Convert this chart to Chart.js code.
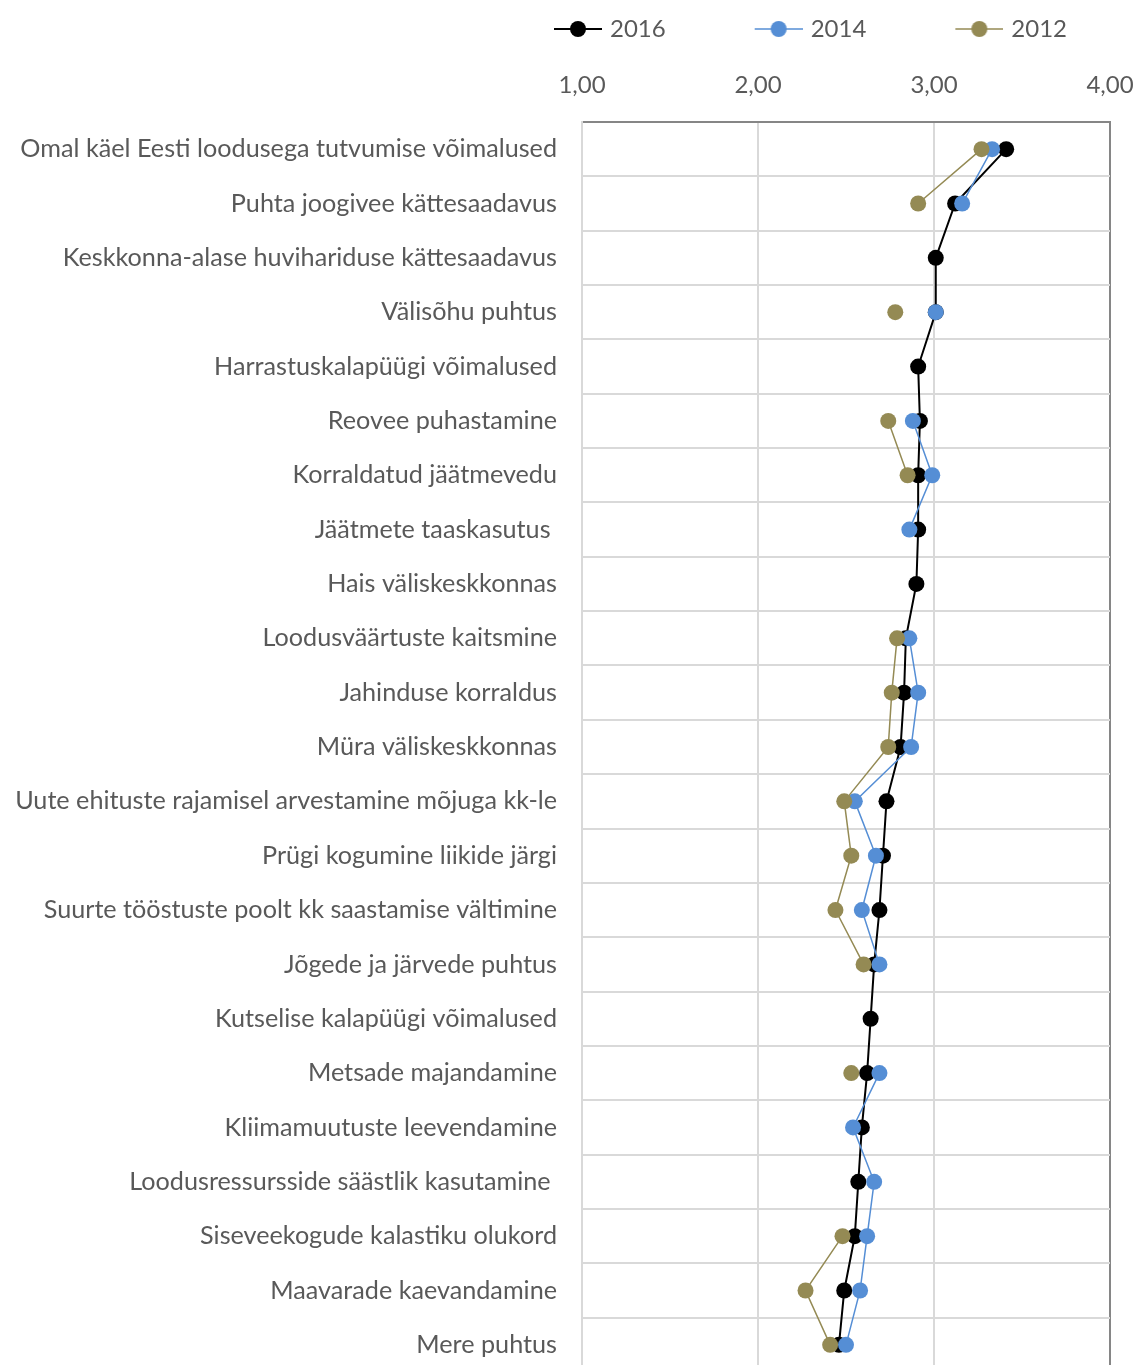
<!DOCTYPE html>
<html lang="et">
<head>
<meta charset="utf-8">
<title>Keskkonnaga rahulolu 2012–2016</title>
<script src="https://cdn.jsdelivr.net/npm/chart.js@4/dist/chart.umd.min.js"></script>
<style>
    html, body { margin: 0; padding: 0; background: #fff; overflow: hidden; }
    #wrap { width: 1139px; height: 1380px; }
</style>
</head>
<body>
<div id="wrap"><canvas id="chart" width="1139" height="1380"></canvas></div>
<script>
// Categories (top to bottom)
const categories = [
    'Omal käel Eesti loodusega tutvumise võimalused',
    'Puhta joogivee kättesaadavus',
    'Keskkonna-alase huvihariduse kättesaadavus',
    'Välisõhu puhtus',
    'Harrastuskalapüügi võimalused',
    'Reovee puhastamine',
    'Korraldatud jäätmevedu',
    'Jäätmete taaskasutus ',
    'Hais väliskeskkonnas',
    'Loodusväärtuste kaitsmine',
    'Jahinduse korraldus',
    'Müra väliskeskkonnas',
    'Uute ehituste rajamisel arvestamine mõjuga kk-le',
    'Prügi kogumine liikide järgi',
    'Suurte tööstuste poolt kk saastamise vältimine',
    'Jõgede ja järvede puhtus',
    'Kutselise kalapüügi võimalused',
    'Metsade majandamine',
    'Kliimamuutuste leevendamine',
    'Loodusressursside säästlik kasutamine ',
    'Siseveekogude kalastiku olukord',
    'Maavarade kaevandamine',
    'Mere puhtus'
];

// Average scores per year (null = not asked that year)
const values2016 = [3.41, 3.12, 3.01, 3.01, 2.91, 2.92, 2.91, 2.91, 2.90, 2.84, 2.83, 2.81,
    2.73, 2.71, 2.69, 2.66, 2.64, 2.62, 2.59, 2.57, 2.55, 2.49, 2.46];
const values2014 = [3.33, 3.16, null, 3.01, null, 2.88, 2.99, 2.86, null, 2.86, 2.91, 2.87,
    2.55, 2.67, 2.59, 2.69, null, 2.69, 2.54, 2.66, 2.62, 2.58, 2.50];
const values2012 = [3.27, 2.91, null, 2.78, null, 2.74, 2.85, null, null, 2.79, 2.76, 2.74,
    2.49, 2.53, 2.44, 2.60, null, 2.53, null, null, 2.48, 2.27, 2.41];

const seriesNames = ['2016', '2014', '2012'];
const axisTicks = [1, 2, 3, 4];

const COLORS = {
    y2016: '#000000',
    y2014: '#558ED5',
    y2012: '#948A54',
    text: '#595959',
    grid: '#D9D9D9',
    frame: '#868686'
};

const FONT = 'Lato, "Open Sans", sans-serif';
const LEGEND_BOX = 123;
const LEGEND_SHIFT = 216; // legend sits over the right part of the chart, not the canvas centre

// Line + marker symbol for the legend, like in Excel
function legendSymbol(color, lineWidth) {
    const c = document.createElement('canvas');
    c.width = LEGEND_BOX + 8;
    c.height = 20;
    const g = c.getContext('2d');
    g.strokeStyle = color;
    g.lineWidth = lineWidth;
    g.beginPath();
    g.moveTo(c.width - 48, 10);
    g.lineTo(c.width, 10);
    g.stroke();
    g.fillStyle = color;
    g.beginPath();
    g.arc(c.width - 24, 10, 8, 0, Math.PI * 2);
    g.fill();
    return c;
}

function makeDataset(label, data, color, width, order) {
    return {
        label,
        data,
        borderColor: color,
        backgroundColor: color,
        borderWidth: width,
        pointRadius: 8,
        pointHoverRadius: 8,
        pointBorderWidth: 0,
        pointBackgroundColor: color,
        tension: 0,
        spanGaps: false,
        fill: false,
        order
    };
}

const datasets = [
    makeDataset(seriesNames[0], values2016, COLORS.y2016, 2, 3),
    makeDataset(seriesNames[1], values2014, COLORS.y2014, 1.5, 2),
    makeDataset(seriesNames[2], values2012, COLORS.y2012, 1.5, 1)
];

const shiftLegend = {
    id: 'shiftLegend',
    afterLayout(chart) {
        chart.legend.left += LEGEND_SHIFT;
        chart.legend.right += LEGEND_SHIFT;
    }
};

const config = {
    type: 'line',
    data: { labels: categories, datasets },
    plugins: [shiftLegend],
    options: {
        indexAxis: 'y',
        responsive: false,
        animation: false,
        layout: {
            padding: { left: 0, right: 29, top: 7, bottom: 8 }
        },
        plugins: {
            tooltip: { enabled: false },
            legend: {
                position: 'top',
                align: 'center',
                labels: {
                    usePointStyle: true,
                    pointStyleWidth: LEGEND_BOX,
                    padding: 10,
                    color: COLORS.text,
                    font: { family: FONT, size: 24 },
                    generateLabels: (chart) => chart.data.datasets.map((ds, i) => ({
                        text: ds.label,
                        datasetIndex: i,
                        fontColor: COLORS.text,
                        fillStyle: ds.borderColor,
                        strokeStyle: ds.borderColor,
                        lineWidth: 0,
                        hidden: !chart.isDatasetVisible(i),
                        pointStyle: legendSymbol(ds.borderColor, ds.borderWidth)
                    }))
                }
            }
        },
        scales: {
            x: {
                type: 'linear',
                position: 'top',
                min: 1,
                max: 4,
                afterBuildTicks: (scale) => {
                    scale.ticks = axisTicks.map(v => ({ value: v }));
                },
                afterFit: (scale) => {
                    scale.height = 71;
                    scale.paddingLeft = 0;
                    scale.paddingRight = 0;
                },
                grid: {
                    drawTicks: false,
                    lineWidth: 2,
                    color: (ctx) => ctx.tick && ctx.tick.value === 4 ? COLORS.frame : COLORS.grid
                },
                border: { color: COLORS.frame, width: 2 },
                ticks: {
                    padding: 22,
                    color: COLORS.text,
                    font: { family: FONT, size: 24 },
                    callback: (v) => v.toFixed(2).replace('.', ',')
                }
            },
            y: {
                type: 'category',
                offset: true,
                afterFit: (scale) => {
                    scale.width = 582;
                    scale.paddingTop = 0;
                    scale.paddingBottom = 0;
                },
                grid: {
                    offset: true,
                    drawTicks: false,
                    lineWidth: 2,
                    color: (ctx) => ctx.index === 0 ? 'rgba(0,0,0,0)' : COLORS.grid
                },
                border: { color: COLORS.grid, width: 2 },
                ticks: {
                    autoSkip: false,
                    padding: 25,
                    color: COLORS.text,
                    font: { family: FONT, size: 25.2 }
                }
            }
        }
    }
};

new Chart(document.getElementById('chart'), config);
</script>
</body>
</html>
